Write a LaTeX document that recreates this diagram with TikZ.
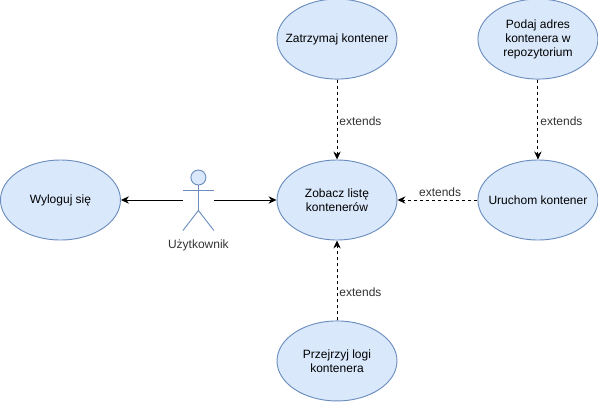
\documentclass[tikz,border=0pt]{standalone}
\usepackage{fontspec}
\setmainfont{Liberation Sans}
\usetikzlibrary{shapes.geometric,arrows.meta,positioning,calc}

\begin{document}
\begin{tikzpicture}[>={Stealth[length=6pt,width=5.5pt]}, node distance=60pt, line width=0.7pt,
    font=\fontsize{9}{10.5}\selectfont,
    usecase/.style={ellipse, draw=edgeblue, fill=fillblue, minimum width=90pt,
                minimum height=60pt, inner xsep=-12pt, inner ysep=0pt, align=center},
    actorbox/.style={minimum width=22.5pt, minimum height=45pt, inner sep=0pt},
    head/.style={circle, draw=edgeblue, fill=fillblue, minimum size=11.25pt, inner sep=0pt},
    limb/.style={draw=edgeblue},
    ext/.style={->, dash pattern=on 2.25pt off 2.25pt},
    extlabel/.style={text=black!80, inner sep=1.5pt, yshift=-1pt}]
  \definecolor{fillblue}{HTML}{DAE8FC}
  \definecolor{edgeblue}{HTML}{6C8EBF}
  \useasboundingbox (-252.75pt,150pt) rectangle (195.75pt,-150.75pt);
  \node[usecase] (list) {Zobacz listę\\kontenerów};
  \node[usecase, above=of list] (stop) {Zatrzymaj kontener};
  \node[usecase, below=of list] (logs) {Przejrzyj logi\\kontenera};
  \node[usecase, right=of list] (run) {Uruchom kontener};
  \node[usecase, above=of run] (address) {Podaj adres\\kontenera w\\repozytorium};
  \node[actorbox, left=47pt of list] (user) {};
  \node[usecase, left=46.5pt of user] (logout) {Wyloguj się};
  \node[below=5pt of user, text=black!80, inner sep=1.5pt] (userlabel) {Użytkownik};
  % actor
  \node[head, anchor=north] (userhead) at (user.north) {};
  \draw[limb] (userhead.south) -- ($(user.south)+(0,15pt)$) coordinate (hip);
  \draw[limb] ($(user.west)+(0,7.5pt)$) -- ($(user.east)+(0,7.5pt)$);
  \draw[limb] (user.south west) -- (hip) -- (user.south east);
  % edges
  \draw[->] (user.west) -- (logout);
  \draw[->] (user.east) -- (list);
  \draw[ext] (stop) -- node[right, extlabel] {extends} (list);
  \draw[ext] (logs) -- node[pos=0.375, right, extlabel] {extends} (list);
  \draw[ext] (address) -- node[right, extlabel] {extends} (run);
  \draw[ext] (run) -- node[above=2pt, xshift=2pt, extlabel] {extends} (list);
\end{tikzpicture}
\end{document}
